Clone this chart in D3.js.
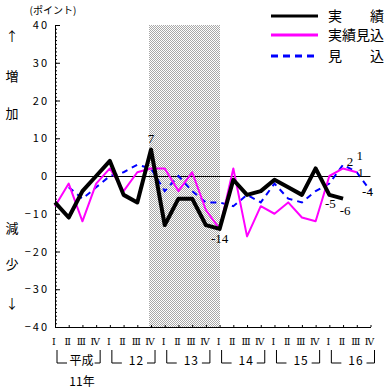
<!DOCTYPE html>
<html>
<head>
<meta charset="utf-8">
<script src="https://cdn.jsdelivr.net/npm/d3@7"></script>
<style>
 body{margin:0;background:#fff}
 svg{display:block}
 text{font-family:"Noto Sans CJK JP",sans-serif;fill:#000}
</style>
</head>
<body>
<script>
//Chart values
var quarters = ["Ⅰ","Ⅱ","Ⅲ","Ⅳ"];
var years    = ["平成","12","13","14","15","16"];
var yTicks   = [40,30,20,10,0,-10,-20,-30,-40];
var seriesNames = ["実　　績","実績見込","見　　込"];

var jisseki  = [-7,-11,-4,0,4,-5,-7,7,-13,-6,-6,-13,-14,-1,-5,-4,-1,-3,-5,2,-5,-6,null,null];	//actual
var jissekiM = [-8,-2,-12,-2,2,-4,1,2,2,-4,1,-9,-14,2,-16,-8,-10,-7,-11,-12,0,2,1,null];	//actual estimate
var mikomi   = [null,-3,-6,-3,0,1,3,2,-4,0,-4,-7,-7,-8,-5,-7,-2,-6,-7,-4,-2,3,1,-4];		//forecast

var shadeFrom = 7, shadeTo = 12;			//shaded quarters (index)

//Which points get a value label
var pointLabels = [["jisseki",7],["jisseki",12],["jisseki",20],["jisseki",21],
                   ["jissekiM",21],["mikomi",22],["jissekiM",22],["mikomi",23]];
var labelOffsets = [[0,-11],[0,10],[1,9],[2,12],[7,-7],[3,-17],[4,0],[-3,0]];

var W = 388, H = 388;
var svg = d3.select("body").append("svg").attr("width",W).attr("height",H);

var x = d3.scaleLinear().domain([0,23]).range([55,370.5]);
var y = d3.scaleLinear().domain([-40,40]).range([327,25]);
var data = {jisseki:jisseki, jissekiM:jissekiM, mikomi:mikomi};

//Checker pattern for the shaded band
var defs = svg.append("defs");
var pat = defs.append("pattern").attr("id","checker")
 .attr("patternUnits","userSpaceOnUse").attr("width",2).attr("height",2);
pat.append("rect").attr("width",2).attr("height",2).attr("fill","#fff");
pat.append("rect").attr("x",0).attr("y",0).attr("width",1).attr("height",1).attr("fill","#a8a8a8");
pat.append("rect").attr("x",1).attr("y",1).attr("width",1).attr("height",1).attr("fill","#a8a8a8");

svg.append("rect")
 .attr("x",Math.round(x(shadeFrom))-2)
 .attr("y",y(40))
 .attr("width",Math.round(x(shadeTo))-Math.round(x(shadeFrom))+2)
 .attr("height",y(-40)-y(40))
 .attr("fill","url(#checker)");

//Zero line
svg.append("line")
 .attr("x1",x(0)).attr("x2",x(23)).attr("y1",Math.round(y(0))+0.5).attr("y2",Math.round(y(0))+0.5)
 .attr("stroke","#000").attr("stroke-width",1);

//Y axis : minor ticks every 1, major every 10, ticks point inward
svg.append("g")
 .attr("transform","translate("+x(0)+",0)")
 .call(d3.axisLeft(y).tickValues(d3.range(-40,41,1)).tickSize(-2).tickSizeOuter(0).tickFormat(""))
 .call(g => g.select(".domain").remove());
var yAxis = svg.append("g")
 .attr("transform","translate("+x(0)+",0)")
 .call(d3.axisLeft(y).tickValues(yTicks).tickSize(-5).tickSizeOuter(0).tickPadding(6));
yAxis.selectAll("text")
 .style("font-family","'Noto Sans CJK JP'")
 .style("font-size","11px")
 .style("letter-spacing","2px");
yAxis.selectAll("line,path").attr("stroke","#000");

//X axis
var xAxis = svg.append("g")
 .attr("transform","translate(0,"+y(-40)+")")
 .call(d3.axisBottom(x).tickValues(d3.range(24)).tickSize(-2).tickSizeOuter(0).tickFormat(""));
xAxis.selectAll("line,path").attr("stroke","#000");

svg.selectAll(".qlab")
 .data(d3.range(24))
 .enter().append("text")
 .attr("class","qlab")
 .attr("x",d => x(d)-1)
 .attr("y",341)
 .attr("text-anchor","middle")
 .attr("dominant-baseline","central")
 .style("font-family","'DejaVu Serif'")
 .style("font-size","9.5px")
 .text(d => quarters[d%4]);

//Year brackets
years.forEach(function(yr,k){
 var left = x(4*k)+2, right = x(4*k+3)+4, top = 350, bot = 363;
 var t = svg.append("text")
  .attr("x",(left+right)/2+3)
  .attr("y",359)
  .attr("text-anchor","middle")
  .attr("dominant-baseline","central")
  .style("font-size","12px")
  .style("letter-spacing", k ? "1px" : "0px")
  .text(yr);
 var tw = t.node().getComputedTextLength();
 var tl = (left+right)/2+3 - tw/2, tr = (left+right)/2+3 + tw/2;
 var armL = Math.min(10, tl-left-2), armR = Math.min(8, right-tr-1);
 svg.append("path")
  .attr("d","M"+left+","+top+"V"+bot+"H"+(left+armL))
  .attr("fill","none").attr("stroke","#000");
 svg.append("path")
  .attr("d","M"+right+","+top+"V"+bot+"H"+(right-armR))
  .attr("fill","none").attr("stroke","#000");
});
svg.append("text")
 .attr("x",82).attr("y",380.5)
 .attr("text-anchor","middle").attr("dominant-baseline","central")
 .style("font-size","12px")
 .text("11年");

//Series
var line = d3.line()
 .defined(d => d !== null)
 .x((d,i) => x(i))
 .y(d => y(d));

svg.append("path").datum(mikomi)
 .attr("d",line).attr("fill","none")
 .attr("stroke","#0000ff").attr("stroke-width",2).attr("stroke-dasharray","6,5");
svg.append("path").datum(jissekiM)
 .attr("d",line).attr("fill","none")
 .attr("stroke","#ff00ff").attr("stroke-width",2).attr("stroke-linejoin","round");
svg.append("path").datum(jisseki)
 .attr("d",line).attr("fill","none")
 .attr("stroke","#000").attr("stroke-width",4).attr("stroke-linejoin","round");

//Value labels
pointLabels.forEach(function(p,j){
 var v = data[p[0]][p[1]];
 svg.append("text")
  .attr("x",x(p[1])+labelOffsets[j][0])
  .attr("y",y(v)+labelOffsets[j][1])
  .attr("text-anchor","middle")
  .attr("dominant-baseline","central")
  .style("font-family","'Liberation Serif'")
  .style("font-size","13px")
  .text(v);
});

//Unit label and side texts
svg.append("text")
 .attr("x",53).attr("y",9)
 .attr("text-anchor","middle").attr("dominant-baseline","central")
 .style("font-size","10px")
 .text("(ポイント)");

var side = [["↑",35],["増",75],["加",112],["減",227],["少",263],["↓",302]];
svg.selectAll(".side")
 .data(side)
 .enter().append("text")
 .attr("class","side")
 .attr("x",12)
 .attr("y",d => d[1])
 .attr("text-anchor","middle")
 .attr("dominant-baseline","central")
 .style("font-size","13px")
 .text(d => d[0]);

//Legend
var legendStyle = [{c:"#000",dash:null},{c:"#ff00ff",dash:null},{c:"#0000ff",dash:"7,5"}];
var legendY = [16,35,56];
seriesNames.forEach(function(name,i){
 svg.append("line")
  .attr("x1",271).attr("x2",318)
  .attr("y1",legendY[i]).attr("y2",legendY[i])
  .attr("stroke",legendStyle[i].c).attr("stroke-width",3)
  .attr("stroke-dasharray",legendStyle[i].dash);
 svg.append("text")
  .attr("x",328).attr("y",legendY[i]-1)
  .attr("dominant-baseline","central")
  .style("font-size","14px")
  .text(name);
});
</script>
</body>
</html>
